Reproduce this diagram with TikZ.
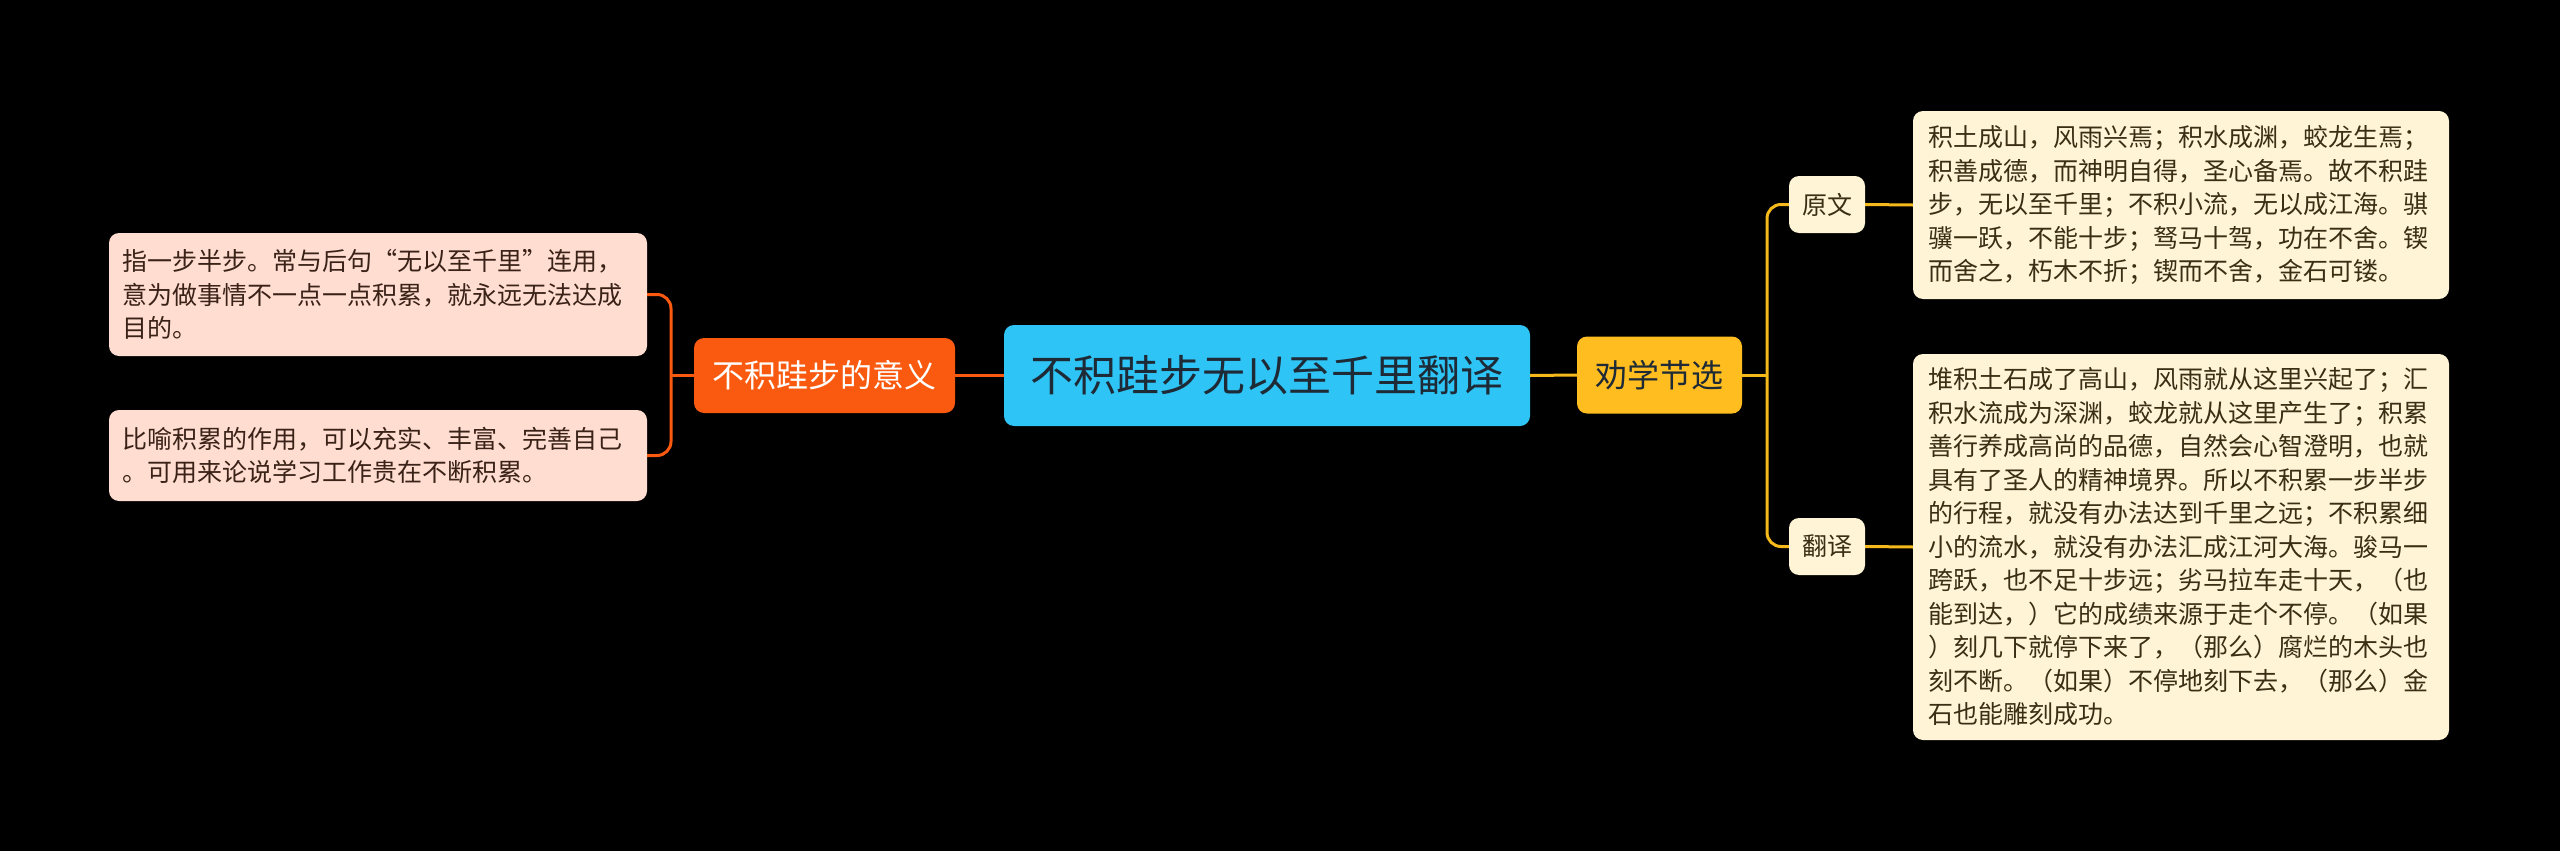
\documentclass[tikz,border=0pt]{standalone}
\usepackage{fontspec}
\setmainfont{Noto Sans CJK SC}
\definecolor{cOrange}{HTML}{FA5A0F}
\definecolor{cPeach}{HTML}{FFDDD0}
\definecolor{cCyan}{HTML}{2EC5F6}
\definecolor{cAmber}{HTML}{FFBD1F}
\definecolor{cCream}{HTML}{FFF4D6}
\definecolor{cYellow}{HTML}{F5B91C}
\definecolor{cDark}{HTML}{1E2A36}
\definecolor{cBrown}{HTML}{3A2E14}
\definecolor{cRedBrown}{HTML}{3A2218}
\tikzset{
  box/.style={rounded corners=10pt, inner sep=0pt, align=center},
  rootbox/.style={box, fill=cCyan, text=cDark, font=\fontsize{43}{50}\selectfont, minimum width=526pt, minimum height=101pt},
  lmain/.style={box, fill=cOrange, text=white, font=\fontsize{32}{38}\selectfont, minimum width=261pt, minimum height=75pt},
  rmain/.style={box, fill=cAmber, text=cDark, font=\fontsize{32}{38}\selectfont, minimum width=165pt, minimum height=77pt},
  lleaf/.style={rounded corners=10pt, fill=cPeach, text=cRedBrown, font=\fontsize{25}{33.5}\selectfont, inner xsep=13pt, inner ysep=0pt, text width=512pt, align=left},
  rsub/.style={box, fill=cCream, text=cBrown, font=\fontsize{25}{30}\selectfont, minimum width=76pt, minimum height=57pt},
  rleaf/.style={rounded corners=10pt, fill=cCream, text=cBrown, font=\fontsize{25}{33.5}\selectfont, inner xsep=15pt, inner ysep=0pt, text width=506pt, align=left},
  lconn/.style={draw=cOrange, line width=3pt, rounded corners=14pt},
  rconn/.style={draw=cYellow, line width=3pt, rounded corners=14pt},
}
\begin{document}
\begin{tikzpicture}[x=1pt,y=-1pt]
\fill[black] (0,0) rectangle (2560,851);
\useasboundingbox (0,0) rectangle (2560,851);

\node[rootbox] (root) at (1267,375.5) {不积跬步无以至千里翻译};
\node[lmain] (lm) at (824.5,375.5) {不积跬步的意义};
\node[lleaf, minimum height=123pt] (l1) at (378,294.5) {指一步半步。常与后句“无以至千里”连用，\\意为做事情不一点一点积累，就永远无法达成\\目的。};
\node[lleaf, minimum height=91pt] (l2) at (378,455.5) {比喻积累的作用，可以充实、丰富、完善自己\\。可用来论说学习工作贵在不断积累。};

\node[rmain] (rm) at (1659.5,375) {劝学节选};
\node[rsub] (yw) at (1827,204.5) {原文};
\node[rsub] (fy) at (1827,546.5) {翻译};
\node[rleaf, minimum height=188pt] (ywt) at (2181,205) {积土成山，风雨兴焉；积水成渊，蛟龙生焉；\\积善成德，而神明自得，圣心备焉。故不积跬\\步，无以至千里；不积小流，无以成江海。骐\\骥一跃，不能十步；驽马十驾，功在不舍。锲\\而舍之，朽木不折；锲而不舍，金石可镂。};
\node[rleaf, minimum height=386pt] (fyt) at (2181,547) {堆积土石成了高山，风雨就从这里兴起了；汇\\积水流成为深渊，蛟龙就从这里产生了；积累\\善行养成高尚的品德，自然会心智澄明，也就\\具有了圣人的精神境界。所以不积累一步半步\\的行程，就没有办法达到千里之远；不积累细\\小的流水，就没有办法汇成江河大海。骏马一\\跨跃，也不足十步远；劣马拉车走十天，（也\\能到达，）它的成绩来源于走个不停。（如果\\）刻几下就停下来了，（那么）腐烂的木头也\\刻不断。（如果）不停地刻下去，（那么）金\\石也能雕刻成功。};

\coordinate (lj) at (671,375.5);
\coordinate (rj) at (1767,375);

\draw[lconn] (lm.east) -- (root.west);
\draw[lconn] (lm.west) -- (lj);
\draw[lconn] (l1.east) -| (lj) |- (l2.east);

\draw[rconn] (root.east) -- (rm.west);
\draw[rconn] (rm.east) -- (rj);
\draw[rconn] (yw.west) -| (rj) |- (fy.west);
\draw[rconn] (yw.east) -- (ywt.west);
\draw[rconn] (fy.east) -- (fyt.west);
\end{tikzpicture}
\end{document}
